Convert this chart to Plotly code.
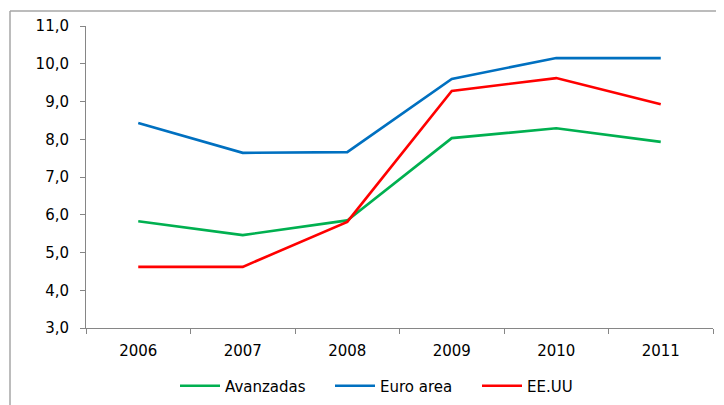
import plotly.graph_objects as go

years = ["2006", "2007", "2008", "2009", "2010", "2011"]
avanzadas = [5.83, 5.46, 5.85, 8.03, 8.29, 7.93]
euro_area = [8.43, 7.64, 7.66, 9.60, 10.15, 10.15]
eeuu = [4.62, 4.62, 5.81, 9.28, 9.62, 8.93]
series_names = ["Avanzadas", "Euro area", "EE.UU"]
colors = ["#00B050", "#0070C0", "#FF0000"]

# page body has an 8px margin, so work in figure coordinates shifted by it
OFF = 8
W, H = 724 - OFF, 405 - OFF
L, R, T, B = 86 - OFF, 713 - OFF, 26 - OFF, 328 - OFF

legend_ids = ["legend", "legend2", "legend3"]
legend_left = [175, 330, 477]

fig = go.Figure()
for name, vals, col, lid in zip(series_names, [avanzadas, euro_area, eeuu], colors, legend_ids):
    fig.add_trace(go.Scatter(x=years, y=vals, name=name, mode="lines", legend=lid,
                             line=dict(color=col, width=2.6)))

def px_x(p):
    return (p - OFF - L) / (R - L)

def px_y(p):
    return (B - (p - OFF)) / (B - T)

font = dict(family="DejaVu Sans, Verdana, sans-serif", size=15, color="#000000")

legends = {}
for lid, lx in zip(legend_ids, legend_left):
    legends[lid] = dict(orientation="h", x=px_x(lx), xanchor="left",
                        y=px_y(386), yanchor="middle", font=font,
                        itemwidth=40, bgcolor="rgba(0,0,0,0)")

fig.update_layout(
    width=W, height=H,
    margin=dict(l=L, r=W - R, t=T, b=H - B, autoexpand=False),
    paper_bgcolor="white", plot_bgcolor="white",
    separators=",.",
    font=font,
    showlegend=True,
    xaxis=dict(type="category", range=[-0.5, 5.5], showline=True,
               linecolor="#868686", linewidth=1, automargin=False,
               ticks="outside", tickson="boundaries", ticklen=5, tickcolor="#868686",
               showgrid=False, zeroline=False, tickfont=font, ticklabelstandoff=9),
    yaxis=dict(range=[3, 11], dtick=1, tickformat=".1f", showline=True,
               linecolor="#868686", linewidth=1, ticks="outside", ticklen=5,
               tickcolor="#868686", showgrid=False, zeroline=False, tickfont=font,
               ticklabelstandoff=8, automargin=False),
    shapes=[
        dict(type="line", xref="paper", yref="paper",
             x0=px_x(10), x1=px_x(740), y0=px_y(11), y1=px_y(11),
             line=dict(color="#A6A6A6", width=1.5)),
        dict(type="line", xref="paper", yref="paper",
             x0=px_x(10), x1=px_x(10), y0=px_y(11), y1=px_y(420),
             line=dict(color="#A6A6A6", width=1.5)),
    ],
    **legends,
)

fig.write_html("out.html")
